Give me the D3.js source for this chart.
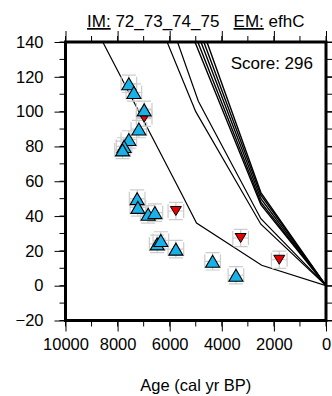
<!DOCTYPE html>
<html><head><meta charset="utf-8">
<script src="https://cdn.jsdelivr.net/npm/d3@7"></script>
<style>
body{margin:0;background:#fff}
text{font-family:"Liberation Sans",Arial,Helvetica,sans-serif;fill:#000}
</style>
</head><body>
<svg id="c" width="332" height="396"></svg>
<script>
// ---- data ----
const xTickValues = [10000, 8000, 6000, 4000, 2000, 0];
const yTickValues = [-20, 0, 20, 40, 60, 80, 100, 120, 140];
const titleIM = "72_73_74_75";
const titleEM = "efhC";
const scoreText = "Score: 296";
const xAxisLabel = "Age (cal yr BP)";

// rising (blue) observations
const riseAge = [7568, 7376, 6980, 7184, 7568, 7750, 7810, 7249, 7222, 6827, 6569, 6481, 6340, 5763, 4353, 3457];
const riseVal = [116, 111, 101, 90, 84, 80, 78, 50, 45, 41, 42, 24, 26, 21, 14, 6];
// falling (red) observations
const fallAge = [6980, 5763, 3277, 1794];
const fallVal = [96.5, 42.9, 27.4, 14.9];
const ageErr = 300;
const valErr = 5;

// model curves: [age, value] vertices
const modelL1 = [[0,0],[2470,11.7],[4970,36],[5550,53],[8570,140]];
const modelL2 = [[0,0],[2500,35.3],[5000,100],[6100,140]];
const modelL3 = [[0,0],[2500,38.5],[4900,106],[5700,140]];
const modelB1 = [[0,0],[2500,46.5],[5030,140]];
const modelB2 = [[0,0],[2500,48],[4920,140]];
const modelB3 = [[0,0],[2500,50],[4800,140]];
const modelB4 = [[0,0],[2500,52],[4690,140]];
const modelB5 = [[0,0],[2500,53.5],[4570,140]];
const thinModels = [modelL1, modelL2, modelL3];
const thickModels = [modelB1, modelB2, modelB3, modelB4, modelB5];

// ---- drawing ----
const svg = d3.select("#c");
const L = 65.5, R = 326, T = 42, B = 320.5;
const x = d3.scaleLinear().domain([10000, 0]).range([L, R]);
const y = d3.scaleLinear().domain([-20, 140]).range([B, T]);

svg.append("defs").append("clipPath").attr("id","pc")
  .append("rect").attr("x",L).attr("y",T).attr("width",R-L).attr("height",B-T);
const plot = svg.append("g").attr("clip-path","url(#pc)");

const line = d3.line().x(d=>x(d[0])).y(d=>y(d[1]));
plot.selectAll("path.thin").data(thinModels).join("path")
  .attr("d", line).attr("fill","none").attr("stroke","#000").attr("stroke-width",1.2);
plot.selectAll("path.thick").data(thickModels).join("path")
  .attr("d", line).attr("fill","none").attr("stroke","#000").attr("stroke-width",1.4);

const rise = riseAge.map((a,i)=>({a, v:riseVal[i]}));
const fall = fallAge.map((a,i)=>({a, v:fallVal[i]}));
const all = rise.concat(fall);

// error bars
const eb = plot.append("g").attr("stroke","#cccccc").attr("stroke-width",1.2).attr("fill","none");
all.forEach(d=>{
  const cx = x(d.a), cy = y(d.v);
  const x0 = x(d.a+ageErr), x1 = x(d.a-ageErr);
  const y0 = y(d.v+valErr), y1 = y(d.v-valErr);
  const cap = 7;
  eb.append("line").attr("x1",x0).attr("x2",x1).attr("y1",cy).attr("y2",cy);
  eb.append("line").attr("x1",x0).attr("x2",x0).attr("y1",cy-cap).attr("y2",cy+cap);
  eb.append("line").attr("x1",x1).attr("x2",x1).attr("y1",cy-cap).attr("y2",cy+cap);
  eb.append("line").attr("x1",cx).attr("x2",cx).attr("y1",y0).attr("y2",y1);
  eb.append("line").attr("x1",cx-cap).attr("x2",cx+cap).attr("y1",y0).attr("y2",y0);
  eb.append("line").attr("x1",cx-cap).attr("x2",cx+cap).attr("y1",y1).attr("y2",y1);
});

// triangles (red first, blue on top)
const up = (w,h)=>`M0,${-h/2}L${w/2},${h/2}L${-w/2},${h/2}Z`;
const dn = (w,h)=>`M0,${h/2}L${w/2},${-h/2}L${-w/2},${-h/2}Z`;
plot.selectAll("path.dn").data(fall).join("path")
  .attr("d", dn(11,9)).attr("transform",d=>`translate(${x(d.a)},${y(d.v)})`)
  .attr("fill","#e60000").attr("stroke","#000").attr("stroke-width",1);
plot.selectAll("path.up").data(rise).join("path")
  .attr("d", up(14,12)).attr("transform",d=>`translate(${x(d.a)},${y(d.v)})`)
  .attr("fill","#18b2e8").attr("stroke","#000").attr("stroke-width",1.1);

// axes
const fs = "16.5px";
const xMinor = d3.range(0, 10001, 1000);
const yMinor = d3.range(-20, 141, 10);
const bottom = d3.axisBottom(x).tickValues(xTickValues).tickSize(11).tickPadding(7).tickFormat(d3.format("d"));
const gb = svg.append("g").attr("transform",`translate(0,${B})`).call(bottom);
gb.select(".domain").remove();
gb.selectAll("text").style("font-size",fs).attr("font-family",null);
gb.append("g").selectAll("line").data(xMinor).join("line")
  .attr("x1",x).attr("x2",x).attr("y1",0).attr("y2",6).attr("stroke","#000");

const gt = svg.append("g").attr("transform",`translate(0,${T})`)
  .call(d3.axisTop(x).tickValues(xTickValues).tickSize(11).tickFormat(""));
gt.select(".domain").remove();
gt.append("g").selectAll("line").data(xMinor).join("line")
  .attr("x1",x).attr("x2",x).attr("y1",0).attr("y2",-6).attr("stroke","#000");

const left = d3.axisLeft(y).tickValues(yTickValues).tickSize(11).tickPadding(11)
  .tickFormat(d=> d<0 ? "\u2212"+Math.abs(d) : d);
const gl = svg.append("g").attr("transform",`translate(${L},0)`).call(left);
gl.select(".domain").remove();
gl.selectAll("text").style("font-size",fs).attr("font-family",null);
gl.append("g").selectAll("line").data(yMinor).join("line")
  .attr("y1",y).attr("y2",y).attr("x1",0).attr("x2",-6).attr("stroke","#000");

const gr = svg.append("g").attr("transform",`translate(${R},0)`)
  .call(d3.axisRight(y).tickValues(yTickValues).tickSize(11).tickFormat(""));
gr.select(".domain").remove();
gr.append("g").selectAll("line").data(yMinor).join("line")
  .attr("y1",y).attr("y2",y).attr("x1",0).attr("x2",6).attr("stroke","#000");

// frame
svg.append("rect").attr("x",L).attr("y",T).attr("width",R-L).attr("height",B-T)
  .attr("fill","none").attr("stroke","#000").attr("stroke-width",3);

// score
svg.append("text").attr("x",313).attr("y",69).attr("text-anchor","end")
  .style("font-size","17px").text(scoreText);

// title
const tt = svg.append("text").attr("x",(L+R)/2).attr("y",27).attr("text-anchor","middle")
  .style("font-size","17px").style("white-space","pre");
tt.append("tspan").attr("text-decoration","underline").text("IM:");
tt.append("tspan").text(" " + titleIM + "   ");
tt.append("tspan").attr("text-decoration","underline").text("EM:");
tt.append("tspan").text(" " + titleEM);

// x label
svg.append("text").attr("x",(L+R)/2).attr("y",391).attr("text-anchor","middle")
  .style("font-size","16.5px").text(xAxisLabel);
</script>
</body></html>
